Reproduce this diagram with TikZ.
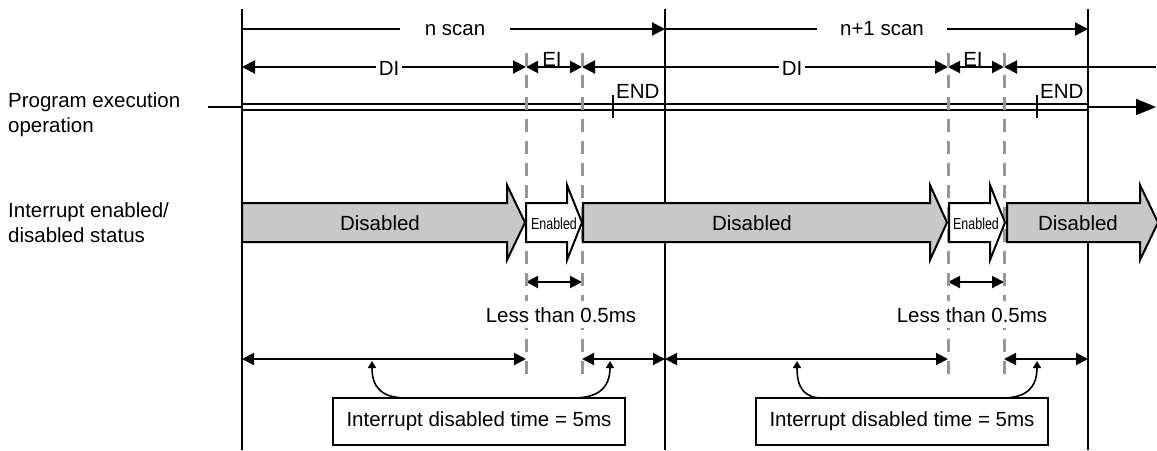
\documentclass[tikz,border=0pt]{standalone}
\usepackage{fontspec}
\setmainfont{Liberation Sans}
\usetikzlibrary{arrows.meta}
\definecolor{statefill}{RGB}{200,200,200}
\definecolor{dashgray}{RGB}{150,150,150}
\newcommand\statearrow[5]{% #1 left x, #2 head base x, #3 tip x, #4 fill, #5 name
  \draw[line width=2pt, fill=#4, line join=miter]
    (#1,203) -- (#2,203) -- (#2,185) -- (#3,222.5) -- (#2,260) -- (#2,242) -- (#1,242) -- cycle;
  \coordinate (#5) at (#1,222.5);
}
\begin{document}
\begin{tikzpicture}[x=1pt,y=-1pt,
  txt/.style={font=\fontsize{20.5}{25}\selectfont, inner sep=0pt},
  smalltxt/.style={font=\fontsize{16}{18}\selectfont, inner sep=0pt},
  dimline/.style={line width=2pt},
  tipR/.style={-{Triangle[length=13pt,width=13pt]}},
  tipL/.style={{Triangle[length=13pt,width=13pt]}-},
  tipLR/.style={{Triangle[length=12pt,width=12pt]}-{Triangle[length=12pt,width=12pt]}},
  vline/.style={line width=2pt},
  dashln/.style={line width=3pt, dashgray, dash pattern=on 13pt off 9pt},
  curvearr/.style={line width=1.6pt, -{Triangle[length=7pt,width=8pt]}},
  infobox/.style={draw, line width=2pt, txt, minimum width=292pt, minimum height=47pt, inner sep=0pt}
]
\useasboundingbox (0,0) rectangle (1157,450);

% ---------- coordinates ----------
\foreach \n/\x in {0/242,3/665,6/1088}{
  \coordinate (vt\n) at (\x,9);
  \coordinate (vb\n) at (\x,450);
}
\foreach \n/\x in {1/526,2/582,4/948,5/1004}{
  \coordinate (gt\n) at (\x,53);
  \coordinate (gb\n) at (\x,375);
}
\coordinate (s0) at (242,29);
\coordinate (s1) at (665,29);
\coordinate (s2) at (1088,29);
\foreach \n/\x in {0/242,1/526,2/582,4/948,5/1004}{
  \coordinate (d\n) at (\x,67);
}
\coordinate (dend) at (1156,67);
\foreach \n/\x in {1/526,2/582,4/948,5/1004}{
  \coordinate (l\n) at (\x,282);
}
\foreach \n/\x in {0/242,1/526,2/582,3/665,4/948,5/1004,6/1088}{
  \coordinate (m\n) at (\x,359);
}

% ---------- vertical scan boundaries ----------
\draw[vline] (vt0) -- (vb0);
\draw[vline] (vt3) -- (vb3);
\draw[vline] (vt6) -- (vb6);

% ---------- scan row ----------
\draw[dimline, tipR] (s0) -- (s1);
\draw[dimline, tipR] (s1) -- (s2);
\node[txt, anchor=base, fill=white, inner xsep=25pt] (nscan) at (455,35) {n scan};
\node[txt, anchor=base, fill=white, inner xsep=23pt] (n1scan) at (882,35) {n+1 scan};

% ---------- DI / EI row ----------
\draw[dimline, tipL] (d0) -- (389,67);
\draw[dimline, tipR] (389,67) -- (d1);
\draw[dimline, tipLR] (d1) -- (d2);
\draw[dimline, tipL] (d2) -- (792,67);
\draw[dimline, tipR] (792,67) -- (d4);
\draw[dimline, tipLR] (d4) -- (d5);
\draw[dimline, tipL] (d5) -- (dend);
\node[txt, anchor=base, fill=white, inner xsep=3pt] (di1) at (389,75) {DI};
\node[txt, anchor=base, fill=white, inner xsep=3pt] (di2) at (792,75) {DI};
\node[txt, anchor=base] (ei1) at (552,66) {EI};
\node[txt, anchor=base] (ei2) at (973,66) {EI};

% ---------- program execution ----------
\coordinate (pl) at (208,107);
\coordinate (pa) at (242,107);
\coordinate (pb) at (1088,107);
\coordinate (pe) at (1156,107);
\draw[line width=2pt] (pl) -- (pa);
\draw[line width=2pt] (242,104) -- (1088,104);
\draw[line width=2pt] (242,110) -- (1088,110);
\draw[line width=2pt, -{Triangle[length=20pt,width=16pt]}] (pb) -- (pe);
\coordinate (e1t) at (613,95); \coordinate (e1b) at (613,118);
\coordinate (e2t) at (1037,95); \coordinate (e2b) at (1037,118);
\draw[line width=2pt] (e1t) -- (e1b);
\draw[line width=2pt] (e2t) -- (e2b);
\node[txt, anchor=base west] (end1) at (616,98) {END};
\node[txt, anchor=base west] (end2) at (1040,98) {END};

% ---------- left labels ----------
\node[txt, anchor=north west, align=left] (lab1) at (8,92) {Program execution\\operation};
\node[txt, anchor=north west, align=left] (lab2) at (8,202) {Interrupt enabled/\\disabled status};

% ---------- enabled duration ----------
\draw[dimline, tipLR] (l1) -- (l2);
\draw[dimline, tipLR] (l4) -- (l5);

% ---------- disabled duration ----------
\draw[dimline, tipLR] (m0) -- (m1);
\draw[dimline, tipLR] (m2) -- (m3);
\draw[dimline, tipLR] (m3) -- (m4);
\draw[dimline, tipLR] (m5) -- (m6);

% ---------- info boxes ----------
\node[infobox] (box1) at (479,421.5) {Interrupt disabled time = 5ms};
\node[infobox] (box2) at (902,421.5) {Interrupt disabled time = 5ms};
\coordinate (c1a) at (407,398); \coordinate (c1at) at (372,361);
\coordinate (c1b) at (573,398); \coordinate (c1bt) at (610,361);
\coordinate (c2a) at (823,398); \coordinate (c2at) at (797,361);
\coordinate (c2b) at (1002,398); \coordinate (c2bt) at (1037,361);
\draw[curvearr] (c1a) .. controls (382,398) and (372,388) .. (c1at);
\draw[curvearr] (c1b) .. controls (598,398) and (610,388) .. (c1bt);
\draw[curvearr] (c2a) .. controls (804,398) and (797,388) .. (c2at);
\draw[curvearr] (c2b) .. controls (1026,398) and (1037,388) .. (c2bt);

% ---------- dashed EI boundaries ----------
\draw[dashln] (gt1) -- (gb1);
\draw[dashln] (gt2) -- (gb2);
\draw[dashln] (gt4) -- (gb4);
\draw[dashln] (gt5) -- (gb5);

\node[txt, anchor=base, fill=white, inner xsep=2pt, inner ysep=6pt] (lt1) at (561,322) {Less than 0.5ms};
\node[txt, anchor=base, fill=white, inner xsep=2pt, inner ysep=6pt] (lt2) at (972,322) {Less than 0.5ms};

% ---------- interrupt status arrows (on top of the boundary lines) ----------
\statearrow{242}{507}{525}{statefill}{sa1}
\statearrow{526}{567}{582}{white}{sa2}
\statearrow{583}{930}{947}{statefill}{sa3}
\statearrow{949}{990}{1005}{white}{sa4}
\statearrow{1007}{1140}{1158}{statefill}{sa5}
\node[txt, anchor=base] (dis1) at (380,230) {Disabled};
\node[smalltxt, anchor=base] (en1) at (554,229) {\scalebox{0.78}[1]{Enabled}};
\node[txt, anchor=base] (dis2) at (752,230) {Disabled};
\node[smalltxt, anchor=base] (en2) at (976,229) {\scalebox{0.78}[1]{Enabled}};
\node[txt, anchor=base] (dis3) at (1078,230) {Disabled};
\end{tikzpicture}
\end{document}
